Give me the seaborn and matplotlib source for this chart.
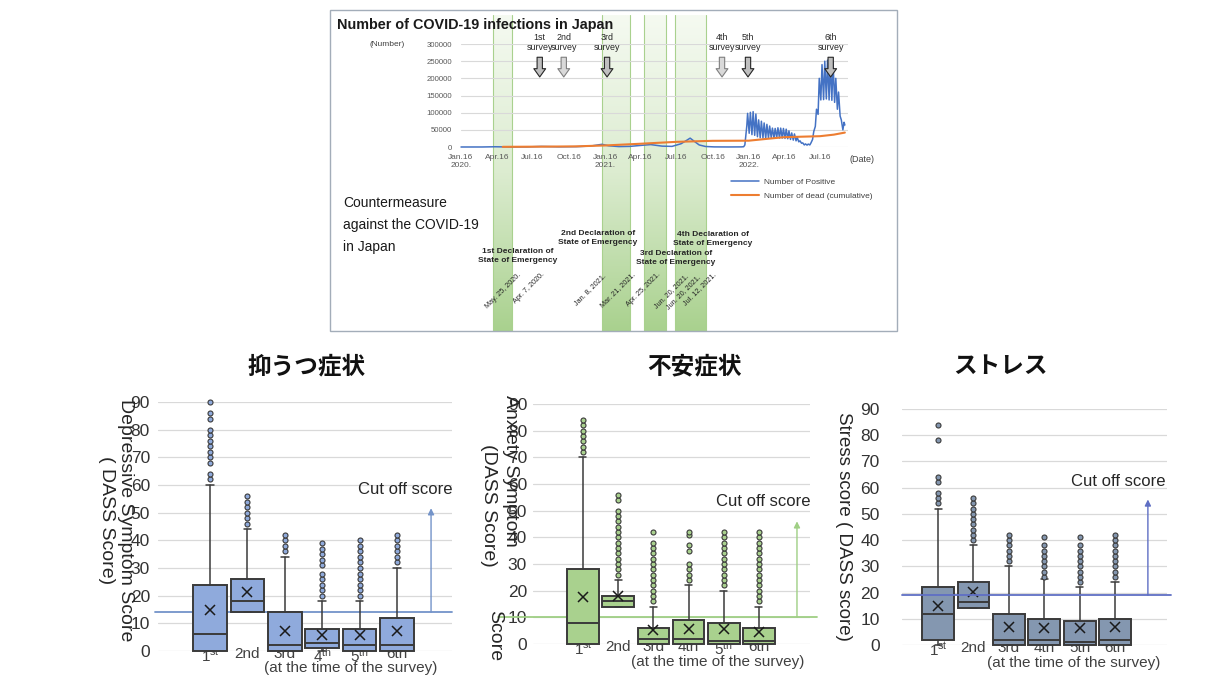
import numpy as np
import pandas as pd
import matplotlib
matplotlib.use("Agg")
import matplotlib.pyplot as plt
import matplotlib.dates as mdates
from matplotlib.colors import LinearSegmentedColormap
from matplotlib.patches import Rectangle
import seaborn as sns

# ---------------- infections timeline ----------------
pos_dates = [
    "2020-01-16", "2020-03-10", "2020-04-11", "2020-05-25", "2020-07-01", "2020-08-07",
    "2020-09-20", "2020-11-05", "2020-12-10", "2021-01-08", "2021-01-25", "2021-02-20",
    "2021-03-20", "2021-04-20", "2021-05-12", "2021-06-10", "2021-07-05", "2021-07-28",
    "2021-08-12", "2021-08-20", "2021-08-30", "2021-09-12", "2021-09-28", "2021-10-20",
    "2021-11-25", "2021-12-28", "2022-01-03", "2022-01-06", "2022-01-08", "2022-01-11",
    "2022-01-13", "2022-01-17", "2022-01-20", "2022-01-24", "2022-01-27", "2022-01-31",
    "2022-02-03", "2022-02-07", "2022-02-10", "2022-02-14", "2022-02-17", "2022-02-21",
    "2022-02-24", "2022-02-28", "2022-03-03", "2022-03-07", "2022-03-10", "2022-03-14",
    "2022-03-17", "2022-03-21", "2022-03-24", "2022-03-28", "2022-03-31", "2022-04-04",
    "2022-04-07", "2022-04-11", "2022-04-14", "2022-04-18", "2022-04-21", "2022-04-25",
    "2022-04-28", "2022-05-02", "2022-05-05", "2022-05-09", "2022-05-12", "2022-05-16",
    "2022-05-19", "2022-05-23", "2022-05-26", "2022-05-30", "2022-06-02", "2022-06-06",
    "2022-06-09", "2022-06-13", "2022-06-16", "2022-06-20", "2022-06-23", "2022-06-27",
    "2022-06-30", "2022-07-04", "2022-07-07", "2022-07-11", "2022-07-14", "2022-07-18",
    "2022-07-21", "2022-07-25", "2022-07-28", "2022-08-01", "2022-08-04", "2022-08-08",
    "2022-08-11", "2022-08-15", "2022-08-18", "2022-08-22", "2022-08-25", "2022-08-29",
    "2022-09-01", "2022-09-05", "2022-09-08", "2022-09-12", "2022-09-15", "2022-09-17",
]
pos_cases = [
    0, 50, 700, 30, 200, 1600,
    500, 1000, 2800, 7800, 3500, 1200,
    1800, 5000, 7000, 2500, 1800, 9500,
    20000, 25800, 17000, 6000, 1500, 300,
    100, 300, 800, 6000, 28000, 62000,
    98000, 40000, 101000, 36000, 103000, 34000,
    96000, 30000, 79000, 27000, 75000, 26000,
    70000, 25000, 66000, 26000, 61000, 27000,
    55000, 26000, 54000, 27000, 56000, 26000,
    55000, 26000, 54000, 25000, 52000, 24000,
    47000, 22000, 41000, 20000, 38000, 18000,
    28000, 15000, 18000, 11000, 12000, 6000,
    9000, 5500, 8500, 6000, 12000, 22000,
    45000, 60000, 110000, 95000, 200000, 137000,
    240000, 138000, 250000, 140000, 253000, 137000,
    245000, 136000, 248000, 130000, 200000, 110000,
    160000, 90000, 79000, 50000, 72000, 64000,
]
dead_dates = ["2020-05-01", "2020-08-01", "2020-11-01", "2021-01-16", "2021-04-16",
              "2021-07-16", "2021-10-16", "2022-01-16", "2022-03-01", "2022-04-16",
              "2022-07-16", "2022-08-20", "2022-09-17"]
dead_cum = [500, 1000, 1800, 4500, 9500, 15000, 18000, 18400, 23500, 28600,
            31500, 36000, 42000]

survey_names = ["1st", "2nd", "3rd", "4th", "5th", "6th"]
survey_dates = ["2020-08-03", "2020-10-03", "2021-01-21", "2021-11-09", "2022-01-14", "2022-08-12"]

emergency_names = ["1st", "2nd", "3rd", "4th"]
emergency_start = ["2020-04-07", "2021-01-08", "2021-04-25", "2021-07-12"]
emergency_end = ["2020-05-25", "2021-03-21", "2021-06-20", "2021-09-30"]
emergency_date_text = ["May. 25, 2020.", "Apr. 7, 2020.", "Jan. 8, 2021.", "Mar. 21, 2021.",
                       "Apr. 25, 2021.", "Jun. 20, 2021.", "Jun. 20, 2021.", "Jul. 12, 2021."]

date_ticks = ["2020-01-16", "2020-04-16", "2020-07-16", "2020-10-16", "2021-01-16",
              "2021-04-16", "2021-07-16", "2021-10-16", "2022-01-16", "2022-04-16", "2022-07-16"]
date_tick_labels = ["Jan.16\n2020.", "Apr.16", "Jul.16", "Oct.16", "Jan.16\n2021.",
                    "Apr.16", "Jul.16", "Oct.16", "Jan.16\n2022.", "Apr.16", "Jul.16"]
count_ticks = [0, 50000, 100000, 150000, 200000, 250000, 300000]

# ---------------- DASS box summaries (1st..6th survey) ----------------
dep_q1 = [0, 14, 0, 1, 0, 0]
dep_med = [6, 18, 2, 3, 2, 2]
dep_q3 = [24, 26, 14, 8, 8, 12]
dep_lo = [0, 14, 0, 0, 0, 0]
dep_hi = [60, 44, 34, 18, 18, 30]
dep_mean = [15, 21.3, 7.2, 5.8, 5.8, 7.3]
dep_out = [
    [62, 64, 68, 70, 72, 74, 76, 78, 80, 84, 86, 90],
    [46, 48, 50, 52, 54, 56],
    [36, 38, 40, 42],
    [20, 22, 24, 26, 28, 31, 33, 35, 37, 39],
    [20, 22, 24, 26, 28, 30, 32, 34, 36, 38, 40],
    [32, 34, 36, 38, 40, 42],
]

anx_q1 = [0, 14, 0, 0, 0, 0]
anx_med = [8, 16, 2, 2, 1, 1]
anx_q3 = [28, 18, 6, 9, 8, 6]
anx_lo = [0, 14, 0, 0, 0, 0]
anx_hi = [70, 24, 14, 22, 20, 14]
anx_mean = [17.5, 17.9, 5.1, 5.6, 5.6, 4.4]
anx_out = [
    [72, 74, 76, 78, 80, 82, 84],
    [26, 28, 30, 32, 34, 36, 38, 40, 42, 44, 46, 48, 50, 54, 56],
    [16, 18, 20, 22, 24, 26, 28, 30, 32, 34, 36, 38, 42],
    [24, 26, 28, 30, 35, 37, 41, 42],
    [22, 24, 26, 28, 30, 32, 34, 36, 38, 40, 42],
    [16, 18, 20, 22, 24, 26, 28, 30, 32, 34, 36, 38, 40, 42],
]

str_q1 = [2, 14, 0, 0, 0, 0]
str_med = [12, 16.5, 2, 2, 1, 2]
str_q3 = [22, 24, 12, 10, 9, 10]
str_lo = [0, 14, 0, 0, 0, 0]
str_hi = [52, 38, 30, 25, 22, 24]
str_mean = [14.9, 20.4, 7, 6.4, 6.4, 7]
str_out = [
    [54, 56, 58, 62, 64, 78, 84],
    [40, 42, 44, 46, 48, 50, 52, 54, 56],
    [32, 34, 36, 38, 40, 42],
    [26, 28, 30, 32, 34, 36, 38, 41],
    [24, 26, 28, 30, 32, 34, 36, 38, 41],
    [26, 28, 30, 32, 34, 36, 38, 40, 42],
]

dep_ticks = ["1$^{\\rm st}$", "2nd", "3rd", "4$^{\\rm th}$", "5$^{\\rm th}$", "6th"]
anx_ticks = ["1$^{\\rm st}$", "2nd", "3rd", "4th", "5$^{\\rm th}$", "6th"]
str_ticks = ["1$^{\\rm st}$", "2nd", "3rd", "4th", "5th", "6th"]
cutoff = {"dep": 14, "anx": 10, "str": 19}
score_ticks = list(range(0, 91, 10))

# ---------------- figure setup ----------------
W, H = 1216, 697


def fx(px):
    return px / W


def fy(py):
    return 1 - py / H


def fbox(l, t, r, b):
    return [fx(l), fy(b), (r - l) / W, (b - t) / H]


def num(d):
    return mdates.date2num(pd.Timestamp(d))


sns.set_theme(style="white")
plt.rcParams["font.family"] = ["Liberation Sans", "DejaVu Sans", "Noto Sans CJK JP"]
plt.rcParams["mathtext.fontset"] = "custom"
plt.rcParams["mathtext.rm"] = "Liberation Sans"
plt.rcParams["mathtext.it"] = "Liberation Sans:italic"
plt.rcParams["mathtext.bf"] = "Liberation Sans:bold"

fig = plt.figure(figsize=(12.16, 6.97), dpi=100)
fig.patch.set_facecolor("white")

# frame around the infection chart
fig.add_artist(Rectangle((fx(330), fy(331)), 567 / W, 321 / H, transform=fig.transFigure,
                         fill=False, ec="#a3adb9", lw=1.0))

x_start, x_end = num("2020-01-16"), num("2022-09-25")

# states of emergency as gradient bands
bg = fig.add_axes(fbox(461, 15, 848, 331))
band_cmap = LinearSegmentedColormap.from_list("band", ["#a9d18e", "#dcecd0", "#f5faf1"])
grad = np.linspace(0, 1, 256).reshape(-1, 1)
for s, e in zip(emergency_start, emergency_end):
    x0, x1 = num(s), num(e)
    bg.imshow(grad, extent=[x0, x1, 0, 1], origin="lower", aspect="auto",
              cmap=band_cmap, interpolation="bilinear")
    for xv in (x0, x1):
        bg.axvline(xv, color="#a9d18e", lw=0.8)
bg.set_xlim(x_start, x_end)
bg.set_ylim(0, 1)
bg.axis("off")

# infection curves
ax = fig.add_axes(fbox(461, 44, 848, 147))
ax.patch.set_alpha(0)
sns.lineplot(x=[num(d) for d in pos_dates], y=pos_cases, ax=ax, color="#4472c4",
             lw=1.1, label="Number of Positive")
sns.lineplot(x=[num(d) for d in dead_dates], y=dead_cum, ax=ax, color="#ed7d31",
             lw=1.5, label="Number of dead (cumulative)")
for ln in ax.lines:
    ln.set_clip_on(False)
ax.set_xlim(x_start, x_end)
ax.set_ylim(0, 300000)
ax.set_yticks(count_ticks)
ax.set_yticklabels([str(v) for v in count_ticks])
ax.set_xticks([num(d) for d in date_ticks])
ax.set_xticklabels(date_tick_labels, linespacing=1.3)
ax.yaxis.grid(True, color="#d9d9d9", lw=0.8)
ax.xaxis.grid(False)
for sp in ax.spines.values():
    sp.set_visible(False)
ax.tick_params(axis="y", length=0, pad=6.5, labelsize=5.6, labelcolor="#595959")
ax.tick_params(axis="x", length=2, color="#bfbfbf", pad=3, labelsize=6, labelcolor="#595959")
ax.set_xlabel("")
ax.set_ylabel("")
ax.legend(loc="upper left", bbox_to_anchor=(fx(731), fy(178)), bbox_transform=fig.transFigure,
          frameon=False, fontsize=6, handlelength=3.3, handletextpad=0.6, labelspacing=0.75,
          borderaxespad=0, borderpad=0, labelcolor="#404040")

for nm, d in zip(survey_names, survey_dates):
    light = nm in ("2nd", "4th")
    ax.annotate(f"{nm}\nsurvey", xy=(num(d), 204000), xytext=(num(d), 277000),
                ha="center", va="bottom", fontsize=6.4, color="#262626", linespacing=1.1,
                annotation_clip=False,
                arrowprops=dict(arrowstyle="simple,head_length=0.7,head_width=1.0,tail_width=0.45",
                                mutation_scale=8.5, fc="#d9d9d9" if light else "#bfbfbf",
                                ec="#7f7f7f" if light else "#262626", lw=0.8,
                                shrinkA=1.5, shrinkB=0))

fig.text(fx(337), fy(25), "Number of COVID-19 infections in Japan", fontsize=10.4,
         weight="bold", va="center", ha="left", color="#1a1a1a")
fig.text(fx(387), fy(44), "(Number)", fontsize=6, ha="center", va="center", color="#404040")
fig.text(fx(850), fy(160), "(Date)", fontsize=6.5, ha="left", va="center", color="#404040")

fig.text(fx(343), fy(196), "Countermeasure\nagainst the COVID-19\nin Japan", fontsize=10,
         ha="left", va="top", linespacing=1.75, color="#1a1a1a")

decl_pos = [(518, 256), (598, 238), (676, 258), (713, 239)]
for nm, (px, py) in zip(emergency_names, decl_pos):
    fig.text(fx(px), fy(py), f"{nm} Declaration of\nState of Emergency", fontsize=6,
             weight="bold", ha="center", va="center", linespacing=1.3, color="#262626")

date_text_pos = [(522, 277), (546, 276), (607, 277), (637, 276), (662, 276),
                 (690, 277), (702, 278), (717, 276)]
for txt, (px, py) in zip(emergency_date_text, date_text_pos):
    fig.text(fx(px), fy(py), txt, fontsize=5.2, rotation=45, rotation_mode="anchor",
             ha="right", va="bottom", color="#262626")


# ---------------- DASS box plots ----------------
def draw_panel(rect, xlim, q1, med, q3, lo, hi, mean, out, ticklabels, face, cut,
               line_color, span, arrow_x, arrow_top, line_on_top, ypad):
    bax = fig.add_axes(rect)
    bax.patch.set_alpha(0)
    stats = [dict(q1=a, med=b, q3=c, whislo=d, whishi=e, mean=f, fliers=g)
             for a, b, c, d, e, f, g in zip(q1, med, q3, lo, hi, mean, out)]
    art = bax.bxp(stats, positions=range(len(stats)), widths=0.9, capwidths=0.2,
                  showmeans=True, patch_artist=True, manage_ticks=False,
                  boxprops=dict(facecolor=face, edgecolor="#3a3a3a", linewidth=1.4),
                  medianprops=dict(color="#3a3a3a", linewidth=1.4),
                  whiskerprops=dict(color="#3a3a3a", linewidth=1.1),
                  capprops=dict(color="#3a3a3a", linewidth=1.1),
                  flierprops=dict(marker="o", markerfacecolor=face, markeredgecolor="#3a3a3a",
                                  markersize=3.6, markeredgewidth=0.8, linestyle="none"),
                  meanprops=dict(marker="x", markeredgecolor="#1a1a1a", markersize=7,
                                 markeredgewidth=1.1))
    for group in art.values():
        for a in group:
            a.set_clip_on(False)
            a.set_zorder(3)
    bax.set_xlim(*xlim)
    bax.set_ylim(0, 90)
    bax.set_yticks(score_ticks)
    bax.set_yticklabels([str(v) for v in score_ticks])
    bax.set_xticks(range(len(ticklabels)))
    bax.set_xticklabels(ticklabels)
    bax.yaxis.grid(True, color="#d9d9d9", lw=0.9)
    bax.xaxis.grid(False)
    for sp in bax.spines.values():
        sp.set_visible(False)
    bax.tick_params(axis="y", length=0, pad=ypad, labelsize=12.5, labelcolor="#333333")
    bax.tick_params(axis="x", length=0, pad=-3, labelsize=11, labelcolor="#404040")
    bax.axhline(cut, xmin=span[0], xmax=span[1], color=line_color, lw=1.3, clip_on=False,
                zorder=5 if line_on_top else 1)
    bax.annotate("", xy=(arrow_x, arrow_top), xytext=(arrow_x, cut),
                 arrowprops=dict(arrowstyle="-|>", color=line_color, lw=1.0,
                                 mutation_scale=9, shrinkA=0, shrinkB=0))
    return bax


draw_panel(fbox(158, 402, 452, 651), (-1.39, 6.47), dep_q1, dep_med, dep_q3, dep_lo, dep_hi,
           dep_mean, dep_out, dep_ticks, "#8faadc", cutoff["dep"], "#7393c9",
           (-0.01, 1.0), 5.91, 51.6, False, 5.8)
draw_panel(fbox(533, 404, 810, 644), (-1.42, 6.45), anx_q1, anx_med, anx_q3, anx_lo, anx_hi,
           anx_mean, anx_out, anx_ticks, "#a9d18e", cutoff["anx"], "#9fcf84",
           (-0.126, 1.025), 6.08, 46, False, 4.3)
draw_panel(fbox(902, 409, 1167, 645), (-1.02, 6.47), str_q1, str_med, str_q3, str_lo, str_hi,
           str_mean, str_out, str_ticks, "#8497b0", cutoff["str"], "#5f6fc4",
           (0.0, 1.015), 5.93, 55.5, True, 16)

cjk = ["Noto Sans CJK JP", "DejaVu Sans"]
for txt, px in [("抑うつ症状", 307), ("不安症状", 694), ("ストレス", 1000)]:
    fig.text(fx(px), fy(366), txt, fontsize=17, weight="bold", family=cjk,
             ha="center", va="center", color="#111111")

fig.text(fx(116), fy(520), "Depressive Symptom Score\n( DASS Score)", rotation=270,
         ha="center", va="center", fontsize=14, multialignment="center", color="#262626")
fig.text(fx(511), fy(471), "Anxiety Symptom", rotation=270, ha="center", va="center",
         fontsize=14, color="#262626")
fig.text(fx(489), fy(505), "(DASS Score)", rotation=270, ha="center", va="center",
         fontsize=14, color="#262626")
fig.text(fx(495), fy(636), "Score", rotation=270, ha="center", va="center",
         fontsize=14, color="#262626")
fig.text(fx(843), fy(526), "Stress score ( DASS score)", rotation=270, ha="center",
         va="center", fontsize=13.5, color="#262626")

for px, py in [(405, 489), (763, 502), (1118, 482)]:
    fig.text(fx(px), fy(py), "Cut off score", fontsize=12, ha="center", va="center",
             color="#262626")
for px, py in [(351, 668), (718, 662), (1074, 663)]:
    fig.text(fx(px), fy(py), "(at the time of the survey)", fontsize=11, ha="center",
             va="center", color="#404040")

fig.savefig("out.png", dpi=100, facecolor="white")
